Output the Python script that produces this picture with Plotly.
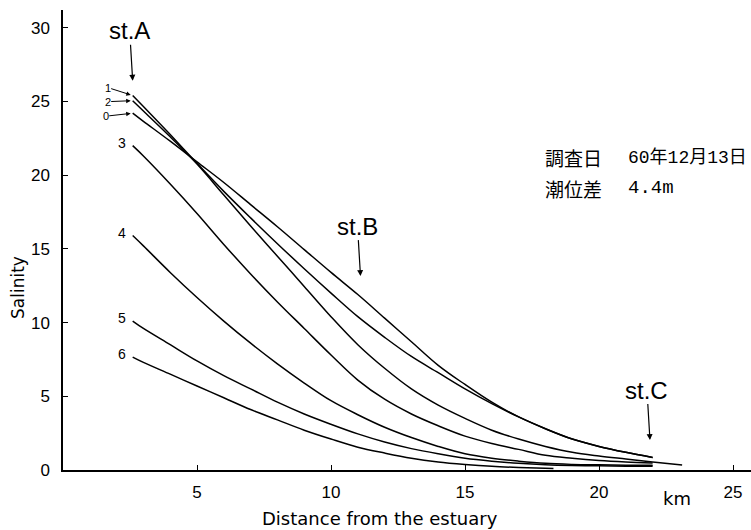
import plotly.graph_objects as go

# Salinity profiles along the river (distance from estuary in km)
km_0 = [2.6, 3, 4, 5, 6, 7, 8, 9, 10, 11, 12, 13, 14, 15, 16, 17, 18, 19, 20, 21, 22]
sal_0 = [24.2, 23.65, 22.3, 20.9, 19.5, 18.0, 16.5, 14.95, 13.4, 11.9, 10.3, 8.7, 7.1, 5.8, 4.6, 3.6, 2.8, 2.1, 1.6, 1.2, 0.85]

km_1 = [2.6, 3, 4, 5, 6, 7, 8, 9, 10, 11, 12, 13, 14, 15, 16, 17, 18, 19, 20, 21, 22]
sal_1 = [25.4, 24.65, 22.75, 20.8, 18.9, 17.1, 15.35, 13.65, 12.0, 10.4, 9.0, 7.7, 6.6, 5.5, 4.5, 3.6, 2.8, 2.1, 1.6, 1.2, 0.85]

km_2 = [2.6, 3, 4, 5, 6, 7, 8, 9, 10, 11, 12, 13, 14, 15, 16, 17, 18, 19, 20, 21, 22, 23.1]
sal_2 = [25.05, 24.35, 22.6, 20.75, 18.65, 16.55, 14.5, 12.45, 10.4, 8.5, 6.9, 5.5, 4.4, 3.5, 2.7, 2.1, 1.6, 1.2, 0.95, 0.75, 0.55, 0.34]

km_3 = [2.6, 3, 4, 5, 6, 7, 8, 9, 10, 11, 12, 13, 14, 15, 16, 17, 18, 19, 20, 21, 22]
sal_3 = [22.0, 21.3, 19.4, 17.4, 15.3, 13.3, 11.4, 9.6, 7.8, 6.1, 4.8, 3.8, 3.0, 2.3, 1.8, 1.4, 1.0, 0.8, 0.65, 0.55, 0.48]

km_4 = [2.6, 3, 4, 5, 6, 7, 8, 9, 10, 11, 12, 13, 14, 15, 16, 17, 18, 19, 20, 21, 22]
sal_4 = [15.9, 15.2, 13.4, 11.7, 10.1, 8.6, 7.2, 5.9, 4.7, 3.75, 2.9, 2.2, 1.6, 1.1, 0.8, 0.6, 0.45, 0.38, 0.35, 0.33, 0.32]

km_5 = [2.6, 3, 4, 5, 6, 7, 8, 9, 10, 11, 12, 13, 14, 15, 16, 17, 18, 19, 20, 21, 22]
sal_5 = [10.1, 9.6, 8.5, 7.4, 6.4, 5.5, 4.6, 3.8, 3.1, 2.45, 1.9, 1.45, 1.1, 0.8, 0.6, 0.45, 0.35, 0.3, 0.28, 0.26, 0.25]

km_6 = [2.6, 3, 4, 5, 6, 7, 8, 9, 10, 11, 12, 13, 14, 15, 16, 17, 18.3]
sal_6 = [7.66, 7.3, 6.5, 5.7, 4.9, 4.1, 3.4, 2.7, 2.1, 1.55, 1.15, 0.8, 0.55, 0.38, 0.25, 0.17, 0.1]

curve_names = ["0", "1", "2", "3", "4", "5", "6"]
curve_km = [km_0, km_1, km_2, km_3, km_4, km_5, km_6]
curve_sal = [sal_0, sal_1, sal_2, sal_3, sal_4, sal_5, sal_6]

# Stations marked with arrows: name, distance, salinity at arrow tip
station_names = ["st.A", "st.B", "st.C"]
station_km = [2.6, 11.1, 21.9]
station_tip = [26.4, 13.15, 2.03]

x_ticks = [5, 10, 15, 20, 25]
y_ticks = [0, 5, 10, 15, 20, 25, 30]

FONT = "Liberation Sans, Arial, sans-serif"
TITLE_FONT = "DejaVu Sans, sans-serif"
JFONT = "Noto Sans CJK JP, sans-serif"
NUM_FONT = "Liberation Mono, Noto Sans CJK JP, monospace"

# plot-area geometry in pixels, used to place paper-referenced notes
L, T, W, H = 63, 10, 688, 460


def px(xp, yp):
    return (xp - L) / W, (T + H - yp) / H


fig = go.Figure()
for name, xs, ys in zip(curve_names, curve_km, curve_sal):
    fig.add_trace(go.Scatter(
        x=xs, y=ys, mode="lines", name=name,
        line=dict(color="black", width=1.5, shape="spline", smoothing=1.0),
        showlegend=False, hoverinfo="skip",
    ))

# curve number labels at the start of each profile
label_offsets = {"1": (-25, -8), "2": (-25, 1), "0": (-27, 3)}
for name, xs, ys in zip(curve_names, curve_km, curve_sal):
    if name in label_offsets:
        ax, ay = label_offsets[name]
        fig.add_annotation(x=xs[0], y=ys[0], text=name, showarrow=True,
                           ax=ax, ay=ay, arrowhead=2, arrowsize=0.9, arrowwidth=1,
                           arrowcolor="black", standoff=2, borderpad=0,
                           font=dict(family=FONT, size=11, color="black"))
    else:
        fig.add_annotation(x=xs[0], y=ys[0], text=name, showarrow=False,
                           xshift=-11, yshift=3,
                           font=dict(family=FONT, size=14, color="black"))

for name, xk, tip in zip(station_names, station_km, station_tip):
    fig.add_annotation(x=xk, y=tip, text=name, showarrow=True,
                       ax=-3, ay=-50, arrowhead=2, arrowsize=1, arrowwidth=1.2,
                       arrowcolor="black", borderpad=0,
                       font=dict(family=FONT, size=24, color="black"))

# survey notes
for txt, xp, yp, fam, size in [
    ("調査日", 543, 157, JFONT, 19),
    ("60年12月13日", 626, 157, NUM_FONT, 18),
    ("潮位差", 543, 188, JFONT, 19),
    ("4.4m", 626, 188, NUM_FONT, 19),
]:
    xx, yy = px(xp, yp)
    fig.add_annotation(xref="paper", yref="paper", x=xx, y=yy, text=txt,
                       showarrow=False, xanchor="left", yanchor="middle",
                       font=dict(family=fam, size=size, color="black"))

# axis titles
xx, yy = px(380, 518)
fig.add_annotation(xref="paper", yref="paper", x=xx, y=yy,
                   text="Distance from the estuary", showarrow=False,
                   xanchor="center", yanchor="middle",
                   font=dict(family=TITLE_FONT, size=18, color="black"))
xx, yy = px(677, 498)
fig.add_annotation(xref="paper", yref="paper", x=xx, y=yy,
                   text="km", showarrow=False, xanchor="center", yanchor="middle",
                   font=dict(family=TITLE_FONT, size=18, color="black"))
xx, yy = px(18, 288)
fig.add_annotation(xref="paper", yref="paper", x=xx, y=yy,
                   text="Salinity", showarrow=False, textangle=-90,
                   xanchor="center", yanchor="middle",
                   font=dict(family=TITLE_FONT, size=17, color="black"))

fig.update_layout(
    width=751, height=530,
    margin=dict(l=L, r=751 - L - W, t=T, b=530 - T - H),
    paper_bgcolor="white", plot_bgcolor="white",
    xaxis=dict(range=[0, 25.67], tickvals=x_ticks, ticks="inside", ticklen=5,
               tickwidth=1, tickcolor="black", showline=True, linecolor="black",
               linewidth=1.5, showgrid=False, zeroline=False, ticklabelstandoff=6,
               tickfont=dict(family=FONT, size=17, color="black")),
    yaxis=dict(range=[0, 31.2], tickvals=y_ticks, ticks="inside", ticklen=5,
               tickwidth=1, tickcolor="black", showline=True, linecolor="black",
               linewidth=1.5, showgrid=False, zeroline=False, ticklabelstandoff=8,
               tickfont=dict(family=FONT, size=17, color="black")),
)

fig.write_html("out.html")
